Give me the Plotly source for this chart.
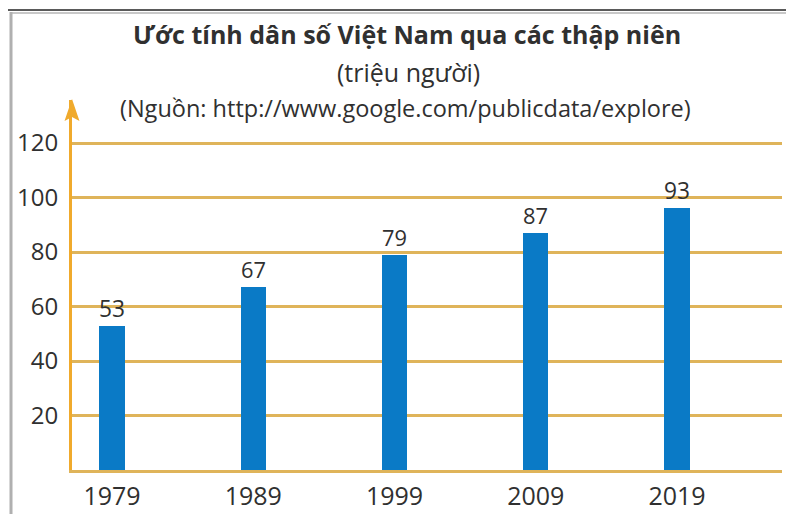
import plotly.graph_objects as go

# Dân số Việt Nam (triệu người)
years = ["1979", "1989", "1999", "2009", "2019"]
population = [53, 67, 79, 87, 93]
# bar heights as drawn in the picture
bar_heights = [53, 67, 79, 87, 96]
y_ticks = [20, 40, 60, 80, 100, 120]

COLOURS = {
    "bar": "#0a7ac6",
    "grid": "#dfb45a",
    "axis": "#f0aa2c",
    "text": "#303030",
}
FONT = "Open Sans"

# the page puts the plot 8px in from the top-left corner
OFF = 8
W, H = 794 - OFF, 514 - OFF
L, R, T, B = 72 - OFF, 12, 100 - OFF, 44
pw, ph = W - L - R, H - T - B


def px(x):
    # screen x -> paper x
    return (x - OFF - L) / pw


def py(y):
    # screen y -> paper y
    return (H - B - (y - OFF)) / ph


fig = go.Figure()

fig.add_trace(
    go.Bar(
        x=years,
        y=bar_heights,
        width=0.18,
        marker=dict(color=COLOURS["bar"], line=dict(width=0)),
        text=[str(v) for v in population],
        textposition="outside",
        textfont=dict(family=FONT, size=25, color=COLOURS["text"]),
        cliponaxis=False,
        hoverinfo="skip",
    )
)

fig.update_xaxes(
    type="category",
    range=[-0.283, 4.743],
    automargin=False,
    showgrid=False,
    showline=True,
    linecolor=COLOURS["grid"],
    linewidth=3,
    ticks="",
    ticklabelstandoff=2,
    tickfont=dict(family=FONT, size=25, color=COLOURS["text"]),
    zeroline=False,
)
fig.update_yaxes(
    range=[0, 135.8],
    tickvals=y_ticks,
    automargin=False,
    showgrid=True,
    gridcolor=COLOURS["grid"],
    gridwidth=3,
    showline=True,
    linecolor=COLOURS["axis"],
    linewidth=3,
    ticks="",
    ticklabelstandoff=6,
    tickfont=dict(family=FONT, size=24, color=COLOURS["text"]),
    zeroline=False,
)

annotations = [
    dict(text="<b>Ước tính dân số Việt Nam qua các thập niên</b>", x=px(407), y=py(34), size=25),
    dict(text="(triệu người)", x=px(408), y=py(72), size=25),
    dict(text="(Nguồn: http://www.google.com/publicdata/explore)", x=px(405), y=py(108), size=23.5),
]
for a in annotations:
    fig.add_annotation(
        text=a["text"],
        x=a["x"],
        y=a["y"],
        xref="paper",
        yref="paper",
        xanchor="center",
        yanchor="middle",
        showarrow=False,
        font=dict(family=FONT, size=a["size"], color=COLOURS["text"]),
    )

# arrow head on top of the y axis
arrow = [(72, 99), (79.5, 121), (72, 117), (64.5, 121)]
path = "M " + " L ".join(f"{px(x):.5f},{py(y):.5f}" for x, y in arrow) + " Z"
fig.add_shape(type="path", xref="paper", yref="paper", path=path,
              fillcolor=COLOURS["axis"], line=dict(width=0))

# page frame
fig.add_shape(type="line", xref="paper", yref="paper",
              x0=px(0), x1=px(800), y0=py(10), y1=py(10),
              line=dict(color="#5a5a5a", width=2))
fig.add_shape(type="line", xref="paper", yref="paper",
              x0=px(11), x1=px(800), y0=py(13), y1=py(13),
              line=dict(color="#c8c8c8", width=2))
fig.add_shape(type="line", xref="paper", yref="paper",
              x0=px(11), x1=px(11), y0=py(12), y1=py(520),
              line=dict(color="#b0b0b0", width=3))

fig.update_layout(
    width=W,
    height=H,
    margin=dict(l=L, r=R, t=T, b=B),
    paper_bgcolor="white",
    plot_bgcolor="white",
    showlegend=False,
    bargap=0,
)

fig.write_html("out.html")
